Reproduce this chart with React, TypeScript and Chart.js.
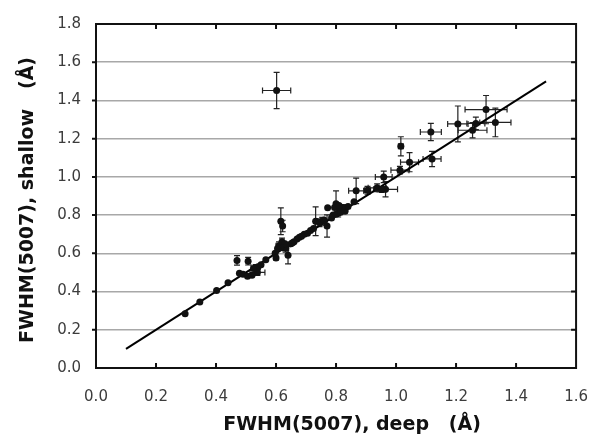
import React, { useEffect, useRef } from "react";
import { Chart, registerables } from "chart.js";
Chart.register(...registerables);

// FWHM(5007) deep (x) vs shallow (y), with errors
const deepX = [0.297, 0.346, 0.402, 0.44, 0.47, 0.507, 0.478, 0.49, 0.505, 0.532, 0.54, 0.538, 0.566, 0.597, 0.6, 0.616, 0.622, 0.61, 0.625, 0.632, 0.62, 0.64, 0.65, 0.66, 0.678, 0.694, 0.705, 0.732, 0.745, 0.754, 0.77, 0.772, 0.785, 0.8, 0.807, 0.813, 0.824, 0.83, 0.84, 0.867, 0.86, 0.905, 0.937, 0.959, 0.965, 0.952, 1.013, 1.016, 1.045, 1.116, 1.12, 1.206, 1.3, 1.266, 1.255, 1.331, 0.602, 0.655, 0.67, 0.685, 0.715, 0.725, 0.76, 0.79, 0.8, 0.815, 0.82, 0.795, 0.81, 0.63, 0.615, 0.605, 0.55, 0.525, 0.52];
const shallowY = [0.284, 0.346, 0.406, 0.446, 0.563, 0.559, 0.496, 0.49, 0.48, 0.526, 0.53, 0.5, 0.566, 0.6, 0.576, 0.768, 0.743, 0.64, 0.64, 0.626, 0.66, 0.59, 0.65, 0.66, 0.684, 0.7, 0.705, 0.768, 0.76, 0.768, 0.743, 0.838, 0.785, 0.86, 0.81, 0.835, 0.835, 0.82, 0.845, 0.927, 0.87, 0.93, 0.943, 1.0, 0.935, 0.934, 1.035, 1.16, 1.077, 1.235, 1.094, 1.277, 1.352, 1.28, 1.244, 1.285, 1.452, 0.655, 0.675, 0.69, 0.72, 0.73, 0.775, 0.8, 0.805, 0.815, 0.84, 0.84, 0.85, 0.65, 0.63, 0.625, 0.54, 0.52, 0.485];
const deepErr = [0, 0, 0, 0, 0, 0, 0, 0, 0, 0.015, 0, 0.025, 0, 0, 0, 0, 0, 0.01, 0.015, 0.01, 0, 0, 0, 0, 0, 0, 0, 0, 0.015, 0.015, 0, 0, 0, 0, 0, 0, 0.015, 0, 0, 0.025, 0, 0.01, 0.03, 0.028, 0.04, 0.015, 0.03, 0.008, 0.03, 0.035, 0.03, 0.034, 0.07, 0.03, 0.048, 0.052, 0.047, 0, 0, 0, 0, 0, 0, 0, 0, 0, 0, 0, 0, 0, 0, 0, 0, 0, 0];
const shallowErr = [0, 0, 0, 0, 0.025, 0.02, 0, 0, 0, 0.015, 0, 0.015, 0, 0, 0.01, 0.07, 0.03, 0.02, 0.02, 0.02, 0.02, 0.045, 0, 0, 0, 0, 0, 0.075, 0.02, 0.02, 0.058, 0, 0, 0.067, 0.02, 0.02, 0.02, 0, 0, 0.067, 0, 0.02, 0.02, 0.03, 0.04, 0.015, 0.02, 0.05, 0.05, 0.045, 0.04, 0.094, 0.074, 0.033, 0.04, 0.075, 0.095, 0, 0, 0, 0, 0, 0, 0, 0, 0, 0, 0, 0, 0, 0, 0, 0, 0, 0];

const lineX = [0.1, 1.5];
const lineY = [0.1, 1.5];

const xMin = 0, xMax = 1.6, yMin = 0, yMax = 1.8, tickStep = 0.2;
const xTitle = "FWHM(5007), deep   (Å)";
const yTitle = "FWHM(5007), shallow   (Å)";

const FONT = "'DejaVu Sans', Verdana, sans-serif";

const errorBars = {
  id: "errorBars",
  beforeDatasetsDraw(chart: any) {
    const { ctx, scales } = chart;
    const x = scales.x, y = scales.y;
    ctx.save();
    ctx.strokeStyle = "#222";
    ctx.lineWidth = 1.2;
    const cap = 3;
    deepX.forEach((dx, i) => {
      const px = x.getPixelForValue(dx);
      const py = y.getPixelForValue(shallowY[i]);
      const xe = deepErr[i], ye = shallowErr[i];
      ctx.beginPath();
      if (xe > 0) {
        const x0 = x.getPixelForValue(dx - xe), x1 = x.getPixelForValue(dx + xe);
        ctx.moveTo(x0, py); ctx.lineTo(x1, py);
        ctx.moveTo(x0, py - cap); ctx.lineTo(x0, py + cap);
        ctx.moveTo(x1, py - cap); ctx.lineTo(x1, py + cap);
      }
      if (ye > 0) {
        const y0 = y.getPixelForValue(shallowY[i] - ye), y1 = y.getPixelForValue(shallowY[i] + ye);
        ctx.moveTo(px, y0); ctx.lineTo(px, y1);
        ctx.moveTo(px - cap, y0); ctx.lineTo(px + cap, y0);
        ctx.moveTo(px - cap, y1); ctx.lineTo(px + cap, y1);
      }
      ctx.stroke();
    });
    ctx.restore();
  },
};

const frame = {
  id: "frame",
  afterDraw(chart: any) {
    const { ctx, chartArea: a, scales } = chart;
    const x = scales.x, y = scales.y;
    ctx.save();
    ctx.strokeStyle = "#111";
    ctx.lineWidth = 2;
    ctx.strokeRect(a.left, a.top, a.right - a.left, a.bottom - a.top);
    ctx.beginPath();
    const tl = 5;
    for (let v = xMin + tickStep; v < xMax - 1e-9; v += tickStep) {
      const px = x.getPixelForValue(v);
      ctx.moveTo(px, a.bottom); ctx.lineTo(px, a.bottom - tl);
      ctx.moveTo(px, a.top); ctx.lineTo(px, a.top + tl);
    }
    for (let v = yMin + tickStep; v < yMax - 1e-9; v += tickStep) {
      const py = y.getPixelForValue(v);
      ctx.moveTo(a.right, py); ctx.lineTo(a.right - tl, py);
      ctx.moveTo(a.left, py); ctx.lineTo(a.left - 4, py);
    }
    ctx.stroke();
    // titles
    ctx.fillStyle = "#111";
    ctx.font = `bold 19px ${FONT}`;
    ctx.textAlign = "center";
    ctx.textBaseline = "middle";
    ctx.fillText(xTitle, (a.left + a.right) / 2 + 16, 425);
    ctx.translate(28, (a.top + a.bottom) / 2 + 4);
    ctx.rotate(-Math.PI / 2);
    ctx.fillText(yTitle, 0, 0);
    ctx.restore();
  },
};

export default function App() {
  const ref = useRef<HTMLCanvasElement>(null);
  useEffect(() => {
    const canvas = ref.current;
    if (!canvas) return;
    const chart = new Chart(canvas, {
      type: "scatter",
      data: {
        datasets: [
          {
            type: "line",
            label: "1:1",
            data: lineX.map((v, i) => ({ x: v, y: lineY[i] })),
            borderColor: "#000",
            borderWidth: 2,
            pointRadius: 0,
            showLine: true,
            fill: false,
            order: 2,
          } as any,
          {
            label: "data",
            data: deepX.map((v, i) => ({ x: v, y: shallowY[i] })),
            backgroundColor: "#111",
            borderColor: "#111",
            pointRadius: 3.5,
            pointBorderWidth: 0,
            order: 1,
          },
        ],
      },
      options: {
        responsive: false,
        animation: false,
        layout: { padding: { left: 0, right: 19, top: 9, bottom: 0 } },
        plugins: { legend: { display: false }, tooltip: { enabled: false } },
        scales: {
          x: {
            type: "linear",
            min: xMin,
            max: xMax,
            grid: { display: false, drawTicks: false },
            border: { display: false },
            ticks: {
              stepSize: tickStep,
              padding: 20,
              color: "#3c3c3c",
              font: { family: FONT, size: 15 },
              maxRotation: 0,
              callback: (v: any) => Number(v).toFixed(1),
            },
            afterFit: (s: any) => { s.height = 78; },
          },
          y: {
            type: "linear",
            min: yMin,
            max: yMax,
            grid: { color: "#a8a8a8", lineWidth: 1.5, drawTicks: false },
            border: { display: false },
            ticks: {
              stepSize: tickStep,
              padding: 15,
              color: "#3c3c3c",
              font: { family: FONT, size: 15 },
              callback: (v: any) => Number(v).toFixed(1),
            },
            afterFit: (s: any) => { s.width = 96; },
          },
        },
      },
      plugins: [errorBars, frame],
    });
    return () => chart.destroy();
  }, []);
  return (
    <div style={{ position: "fixed", left: 0, top: 0, width: 608, height: 446, background: "#fff" }}>
      <canvas ref={ref} width={608} height={446} />
    </div>
  );
}
